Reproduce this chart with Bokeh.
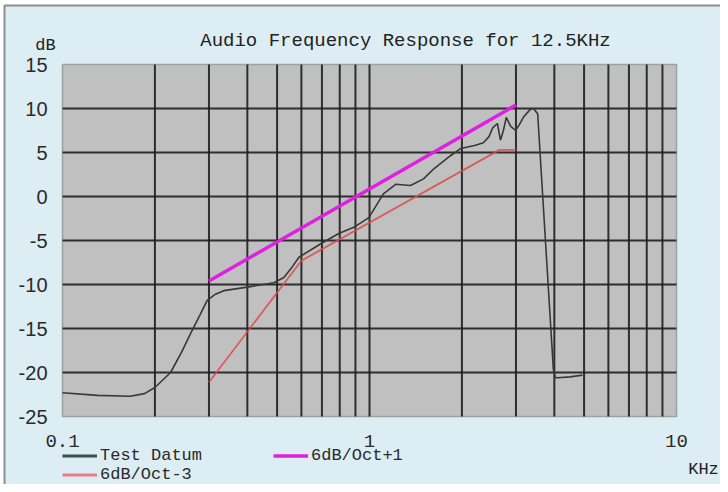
import math
from bokeh.plotting import figure
from bokeh.models import Label, Legend, LegendItem, Range1d
from bokeh.core.properties import value
from bokeh.embed import file_html
from bokeh.resources import INLINE

# ---- data ----
test_freq = [0.1, 0.13, 0.166, 0.185, 0.2, 0.225, 0.245, 0.261, 0.28, 0.296,
             0.315, 0.335, 0.4, 0.488, 0.526, 0.56, 0.589, 0.692, 0.794, 0.889,
             0.995, 1.11, 1.22, 1.36, 1.5, 1.62, 1.84, 1.98, 2.2, 2.35,
             2.45, 2.52, 2.61, 2.67, 2.73, 2.79, 2.88, 2.99, 3.08, 3.17,
             3.34, 3.42, 3.53, 3.97, 4.03, 4.10, 4.5, 4.94]
test_db = [-22.3, -22.6, -22.7, -22.4, -21.7, -20.0, -17.6, -15.6, -13.5, -11.8,
           -11.1, -10.7, -10.3, -9.8, -9.2, -8.0, -6.9, -5.4, -4.2, -3.5,
           -2.4, 0.3, 1.4, 1.25, 2.0, 3.15, 4.66, 5.45, 5.8, 6.1,
           6.8, 7.8, 8.3, 6.4, 7.5, 9.0, 8.0, 7.5, 8.2, 9.0,
           9.9, 10.0, 9.4, -19.6, -20.6, -20.6, -20.5, -20.3]

plus1_freq = [0.3, 3.0]
plus1_db = [-9.6, 10.4]

minus3_freq = [0.3, 0.6, 2.65, 3.0]
minus3_db = [-21.1, -7.3, 5.3, 5.3]

x_label_ticks = [0.1, 1, 10]
x_label_text = ["0.1", "1", "10"]
x_grid_ticks = [0.1, 0.2, 0.3, 0.4, 0.5, 0.6, 0.7, 0.8, 0.9,
                1, 2, 3, 4, 5, 6, 7, 8, 9, 10]
y_ticks = [-25, -20, -15, -10, -5, 0, 5, 10, 15]

title_text = "Audio Frequency Response for 12.5KHz"
series_names = ["Test Datum", "6dB/Oct+1", "6dB/Oct-3"]
y_unit = "dB"
x_unit = "KHz"

# ---- layout (pixels) ----
W, H = 720, 484
X0_PX, X1_PX = 62, 676      # chart area left/right
Y0_PX, Y1_PX = 64, 416      # chart area top/bottom
MONO = "Liberation Mono"
SANS = "Liberation Sans"

x_lo, x_hi = x_label_ticks[0], x_label_ticks[-1]
y_lo, y_hi = y_ticks[0], y_ticks[-1]
dec_px = (X1_PX - X0_PX) / math.log10(x_hi / x_lo)
db_px = (Y1_PX - Y0_PX) / (y_hi - y_lo)


def fx(px):
    return x_lo * 10 ** ((px - X0_PX) / dec_px)


def fy(py):
    return y_hi - (py - Y0_PX) / db_px


p = figure(width=W, height=H, x_axis_type="log",
           x_axis_location=None, y_axis_location=None,
           x_range=Range1d(fx(0), fx(W)), y_range=Range1d(fy(H), fy(0)),
           output_backend="svg", toolbar_location=None,
           min_border=0, min_border_left=0, min_border_right=0,
           min_border_top=0, min_border_bottom=0)
p.grid.visible = False
p.outline_line_color = None
p.background_fill_color = "#ffffff"
p.border_fill_color = "#ffffff"

# outer light-blue panel with grey border
p.quad(left=[fx(4)], right=[fx(W + 10)], top=[fy(5)], bottom=[fy(488)],
       fill_color="#dcedf3", line_color="#8a9090", line_width=2)

# chart area
p.quad(left=[x_lo], right=[x_hi], top=[y_hi], bottom=[y_lo],
       fill_color="#c0c0c0", line_color="#9aa3a3", line_width=1.5)

# grid lines (interior)
gx = x_grid_ticks[1:-1]
p.segment(x0=gx, y0=[y_lo] * len(gx), x1=gx, y1=[y_hi] * len(gx),
          line_color="#1e1e1e", line_width=2, line_alpha=0.9)
gy = y_ticks[1:-1]
p.segment(x0=[x_lo] * len(gy), y0=gy, x1=[x_hi] * len(gy), y1=gy,
          line_color="#1e1e1e", line_width=2, line_alpha=0.9)

# tick labels
p.text(x=x_label_ticks, y=[fy(Y1_PX + 24)] * len(x_label_ticks), text=x_label_text,
       text_align="center", text_baseline="middle", text_font=value(MONO),
       text_font_size="19px", text_color="#2a2a2a")
p.text(x=[fx(X0_PX - 15)] * len(y_ticks), y=y_ticks, text=[str(t) for t in y_ticks],
       text_align="right", text_baseline="middle", text_font=value(SANS),
       text_font_size="20px", text_color="#2a2a2a")

# data lines
p.line(test_freq, test_db, line_color="#383838", line_width=1.6)
p.line(minus3_freq, minus3_db, line_color="#dc4a4a", line_width=1.8, line_alpha=0.85)
p.line(plus1_freq, plus1_db, line_color="#e020e0", line_width=3.5)

# legend proxies (one NaN point each, styled like the legend swatches)
nan = float("nan")
lg_test = p.line([nan], [nan], line_color="#3f4d4d", line_width=3)
lg_plus = p.line([nan], [nan], line_color="#e020e0", line_width=3.5)
lg_minus = p.line([nan], [nan], line_color="#f07a8c", line_width=3)

leg_common = dict(padding=0, spacing=0, margin=0, glyph_width=35, glyph_height=19,
                  label_height=19, label_standoff=3, background_fill_alpha=0,
                  border_line_alpha=0, label_text_font=MONO,
                  label_text_font_size="17px", label_text_color="#2a2a2a")
leg1 = Legend(items=[LegendItem(label=series_names[0], renderers=[lg_test], index=0),
                     LegendItem(label=series_names[2], renderers=[lg_minus], index=0)],
              location=(62, 0), **leg_common)
leg2 = Legend(items=[LegendItem(label=series_names[1], renderers=[lg_plus], index=0)],
              location=(273, 19), **leg_common)
p.add_layout(leg1)
p.add_layout(leg2)

# title and unit labels
p.add_layout(Label(x=fx(405), y=fy(40), text=title_text, text_align="center",
                   text_baseline="middle", text_font=MONO, text_font_size="19px",
                   text_color="#222222"))
p.add_layout(Label(x=fx(45), y=fy(45), text=y_unit, text_align="center",
                   text_baseline="middle", text_font=MONO, text_font_size="17px",
                   text_color="#222222"))
p.add_layout(Label(x=fx(703), y=fy(469), text=x_unit, text_align="center",
                   text_baseline="middle", text_font=MONO, text_font_size="17px",
                   text_color="#222222"))

open("out.html", "w").write(file_html(p, INLINE))
